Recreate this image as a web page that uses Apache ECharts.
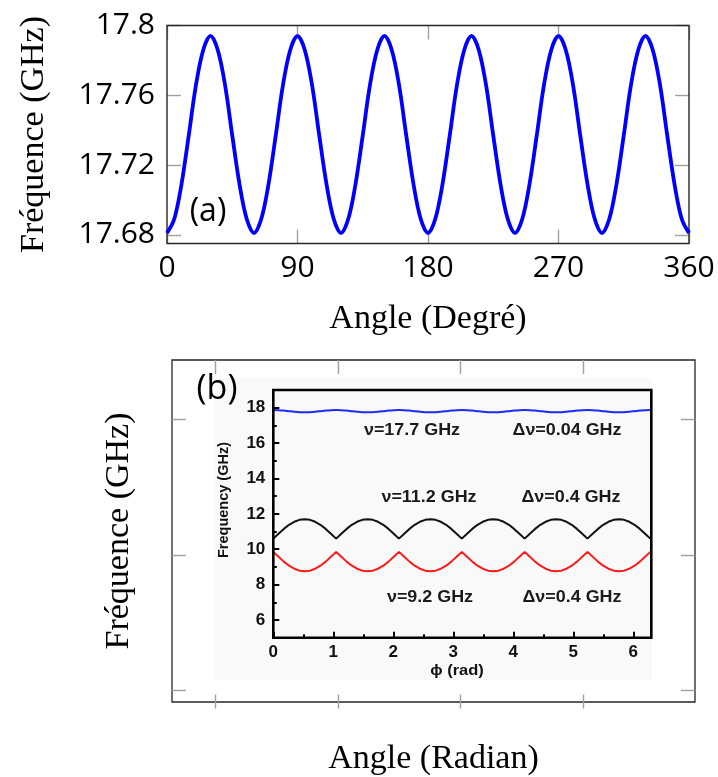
<!DOCTYPE html>
<html>
<head>
<meta charset="utf-8">
<script src="https://cdn.jsdelivr.net/npm/echarts@6/dist/echarts.min.js"></script>
<style>
html,body{margin:0;padding:0;background:#fff;}
#chart{width:718px;height:777px;}
</style>
</head>
<body>
<div id="chart"></div>
<script>
// ---------- Panel (a) data ----------
const thetaDeg = [0,5,10,15,20,25,30,35,40,45,50,55,60,65,70,75,80,85,90,95,100,105,110,115,120,125,130,135,140,145,150,155,160,165,170,175,180,185,190,195,200,205,210,215,220,225,230,235,240,245,250,255,260,265,270,275,280,285,290,295,300,305,310,315,320,325,330,335,340,345,350,355,360];
const freqA = [
17.681,17.689,17.709,17.737,17.766,17.786,17.794,17.786,17.766,17.737,17.709,17.689,
17.681,17.689,17.709,17.737,17.766,17.786,17.794,17.786,17.766,17.737,17.709,17.689,
17.681,17.689,17.709,17.737,17.766,17.786,17.794,17.786,17.766,17.737,17.709,17.689,
17.681,17.689,17.709,17.737,17.766,17.786,17.794,17.786,17.766,17.737,17.709,17.689,
17.681,17.689,17.709,17.737,17.766,17.786,17.794,17.786,17.766,17.737,17.709,17.689,
17.681,17.689,17.709,17.737,17.766,17.786,17.794,17.786,17.766,17.737,17.709,17.689,
17.681];
const xTicksA = [0,90,180,270,360];
const yTicksA = [17.68,17.72,17.76,17.8];

// ---------- Panel (b) inset data ----------
const phiRad = [0.000,0.087,0.175,0.262,0.349,0.436,0.524,0.611,0.698,0.785,0.873,0.960,1.047,1.134,1.222,1.309,1.396,1.484,1.571,1.658,1.745,1.833,1.920,2.007,2.094,2.182,2.269,2.356,2.443,2.531,2.618,2.705,2.793,2.880,2.967,3.054,3.142,3.229,3.316,3.403,3.491,3.578,3.665,3.752,3.840,3.927,4.014,4.102,4.189,4.276,4.363,4.451,4.538,4.625,4.712,4.800,4.887,4.974,5.061,5.149,5.236,5.323,5.411,5.498,5.585,5.672,5.760,5.847,5.934,6.021,6.109,6.196,6.283];
const freqBlue = [
17.870,17.861,17.838,17.805,17.773,17.749,17.740,17.749,17.773,17.805,17.838,17.861,
17.870,17.861,17.838,17.805,17.773,17.749,17.740,17.749,17.773,17.805,17.838,17.861,
17.870,17.861,17.838,17.805,17.773,17.749,17.740,17.749,17.773,17.805,17.838,17.861,
17.870,17.861,17.838,17.805,17.773,17.749,17.740,17.749,17.773,17.805,17.838,17.861,
17.870,17.861,17.838,17.805,17.773,17.749,17.740,17.749,17.773,17.805,17.838,17.861,
17.870,17.861,17.838,17.805,17.773,17.749,17.740,17.749,17.773,17.805,17.838,17.861,
17.870];
const freqBlack = [
10.60,10.88,11.15,11.38,11.55,11.66,11.70,11.66,11.55,11.38,11.15,10.88,
10.60,10.88,11.15,11.38,11.55,11.66,11.70,11.66,11.55,11.38,11.15,10.88,
10.60,10.88,11.15,11.38,11.55,11.66,11.70,11.66,11.55,11.38,11.15,10.88,
10.60,10.88,11.15,11.38,11.55,11.66,11.70,11.66,11.55,11.38,11.15,10.88,
10.60,10.88,11.15,11.38,11.55,11.66,11.70,11.66,11.55,11.38,11.15,10.88,
10.60,10.88,11.15,11.38,11.55,11.66,11.70,11.66,11.55,11.38,11.15,10.88,
10.60];
const freqRed = [
9.85,9.57,9.30,9.07,8.90,8.79,8.75,8.79,8.90,9.07,9.30,9.57,
9.85,9.57,9.30,9.07,8.90,8.79,8.75,8.79,8.90,9.07,9.30,9.57,
9.85,9.57,9.30,9.07,8.90,8.79,8.75,8.79,8.90,9.07,9.30,9.57,
9.85,9.57,9.30,9.07,8.90,8.79,8.75,8.79,8.90,9.07,9.30,9.57,
9.85,9.57,9.30,9.07,8.90,8.79,8.75,8.79,8.90,9.07,9.30,9.57,
9.85,9.57,9.30,9.07,8.90,8.79,8.75,8.79,8.90,9.07,9.30,9.57,
9.85];
const xTicksInset = [0,1,2,3,4,5,6];
const xMinorInset = [0.5,1.5,2.5,3.5,4.5,5.5];
const yTicksInset = [6,8,10,12,14,16,18];
const yMinorInset = [7,9,11,13,15,17];
const annotations = [
  ['ν=17.7 GHz', 412, 431], ['Δν=0.04 GHz', 567, 431],
  ['ν=11.2 GHz', 429, 498], ['Δν=0.4 GHz', 571, 498],
  ['ν=9.2 GHz', 430, 598], ['Δν=0.4 GHz', 572, 598]
];
// outer (b) frame ticks (no labels)
const yTicksOuterB = [0,1,2];

const zip = (xs, ys) => xs.map((x, i) => [x, ys[i]]);

const SERIF = '"Liberation Serif", "DejaVu Serif", serif';
const SANS = '"Open Sans", sans-serif';
const ARIAL = '"Liberation Sans", "DejaVu Sans", sans-serif';
const TICK_GRAY = '#a0a0a0';
const grayTick = (custom) => {
  const t = {show: true, inside: true, length: 14, lineStyle: {color: TICK_GRAY, width: 1.4}};
  if (custom) t.customValues = custom;
  return t;
};
const noLine = () => ({show: false, onZero: false});
const stripY = (gridIndex) => ({gridIndex, type: 'value', min: 0, max: 1,
  axisLine: noLine(), axisTick: {show: false}, axisLabel: {show: false}, splitLine: {show: false}});
// bottom-positioned carrier axis whose inward ticks form the frame ticks of box (b)
const frameTickX = (gridIndex) => ({gridIndex, type: 'value', min: 0, max: 3, interval: 1, position: 'bottom', z: 20,
  axisLine: noLine(), splitLine: {show: false}, axisLabel: {show: false}, axisTick: grayTick()});

const chart = echarts.init(document.getElementById('chart'), null, {renderer: 'canvas'});

const option = {
  animation: false,
  backgroundColor: '#fff',
  grid: [
    {left: 167, top: 25.5, width: 522, height: 218, show: true, borderColor: '#262626', borderWidth: 1.4, backgroundColor: 'transparent', z: 3},
    {left: 172, top: 360, width: 523, height: 348.5, show: true, borderColor: '#262626', borderWidth: 1.3, backgroundColor: 'transparent'},
    {left: 273.3, top: 390, width: 378, height: 247.7, show: true, borderColor: '#000', borderWidth: 2.6, backgroundColor: 'transparent', z: 4},
    // carrier for the top frame ticks: its bottom edge sits 14px below the box top
    {left: 215.7, top: 300, width: 367.3, height: 74, show: false},
    // carrier for the bottom frame ticks: its bottom edge is the box bottom
    {left: 215.7, top: 600, width: 367.3, height: 108.5, show: false}
  ],
  xAxis: [
    {gridIndex: 0, type: 'value', min: 0, max: 360, interval: 90, position: 'bottom',
     axisLine: noLine(), splitLine: {show: false}, axisTick: grayTick(),
     axisLabel: {color: '#000', fontFamily: SANS, fontSize: 30, margin: 10},
     name: 'Angle (Degré)', nameLocation: 'middle', nameGap: 59, nameMoveOverlap: false,
     nameTextStyle: {fontFamily: SERIF, fontSize: 34, color: '#000'}},
    {gridIndex: 0, type: 'value', min: 0, max: 360, interval: 90, position: 'top',
     axisLine: noLine(), splitLine: {show: false}, axisTick: grayTick(), axisLabel: {show: false}},
    {gridIndex: 1, type: 'value', min: 0, max: 1, position: 'bottom',
     axisLine: noLine(), splitLine: {show: false}, axisTick: {show: false}, axisLabel: {show: false},
     name: 'Angle (Radian)', nameLocation: 'middle', nameGap: 40, nameMoveOverlap: false,
     nameTextStyle: {fontFamily: SERIF, fontSize: 34, color: '#000'}},
    {gridIndex: 2, type: 'value', min: 0, max: 6.3, position: 'bottom',
     axisLine: noLine(), splitLine: {show: false},
     axisTick: {show: true, inside: true, length: 6, customValues: xTicksInset, lineStyle: {color: '#000', width: 2}},
     axisLabel: {customValues: xTicksInset, color: '#111', fontFamily: ARIAL, fontWeight: 'bold', fontSize: 17, margin: 6}},
    {gridIndex: 2, type: 'value', min: 0, max: 6.3, position: 'bottom',
     axisLine: noLine(), splitLine: {show: false},
     axisTick: {show: true, inside: true, length: 3.5, customValues: xMinorInset, lineStyle: {color: '#000', width: 2}},
     axisLabel: {show: false}},
    frameTickX(3),
    frameTickX(4)
  ],
  yAxis: [
    {gridIndex: 0, type: 'value', min: 17.675, max: 17.8, position: 'left',
     axisLine: noLine(), splitLine: {show: false},
     axisTick: grayTick(yTicksA),
     axisLabel: {customValues: yTicksA, color: '#000', fontFamily: SANS, fontSize: 30, margin: 12},
     name: 'Fréquence (GHz)', nameLocation: 'middle', nameGap: 116, nameMoveOverlap: false,
     nameTextStyle: {fontFamily: SERIF, fontSize: 34, color: '#000'}},
    {gridIndex: 0, type: 'value', min: 17.675, max: 17.8, position: 'right',
     axisLine: noLine(), splitLine: {show: false},
     axisTick: grayTick(yTicksA), axisLabel: {show: false}},
    {gridIndex: 1, type: 'value', min: -0.085, max: 2.435, position: 'left',
     axisLine: noLine(), splitLine: {show: false},
     axisTick: grayTick(yTicksOuterB), axisLabel: {show: false},
     name: 'Fréquence (GHz)', nameLocation: 'middle', nameGap: 36, nameMoveOverlap: false,
     nameTextStyle: {fontFamily: SERIF, fontSize: 34, color: '#000'}},
    {gridIndex: 1, type: 'value', min: -0.085, max: 2.435, position: 'right',
     axisLine: noLine(), splitLine: {show: false},
     axisTick: grayTick(yTicksOuterB), axisLabel: {show: false}},
    {gridIndex: 2, type: 'value', min: 5, max: 19, position: 'left',
     axisLine: noLine(), splitLine: {show: false},
     axisTick: {show: true, inside: true, length: 6, customValues: yTicksInset, lineStyle: {color: '#000', width: 2}},
     axisLabel: {customValues: yTicksInset, color: '#111', fontFamily: ARIAL, fontWeight: 'bold', fontSize: 17, margin: 8}},
    {gridIndex: 2, type: 'value', min: 5, max: 19, position: 'left',
     axisLine: noLine(), splitLine: {show: false},
     axisTick: {show: true, inside: true, length: 3.5, customValues: yMinorInset, lineStyle: {color: '#000', width: 2}},
     axisLabel: {show: false}},
    stripY(3),
    stripY(4)
  ],
  series: [
    {type: 'line', xAxisIndex: 0, yAxisIndex: 0, data: zip(thetaDeg, freqA), smooth: 0.35,
     showSymbol: false, lineStyle: {color: '#0000ff', width: 3.8}, z: 5},
    {type: 'line', xAxisIndex: 3, yAxisIndex: 4, data: zip(phiRad, freqBlue), smooth: 0.3,
     showSymbol: false, lineStyle: {color: '#1a2cff', width: 2}},
    {type: 'line', xAxisIndex: 3, yAxisIndex: 4, data: zip(phiRad, freqBlack), smooth: false,
     showSymbol: false, lineStyle: {color: '#111', width: 2}},
    {type: 'line', xAxisIndex: 3, yAxisIndex: 4, data: zip(phiRad, freqRed), smooth: false,
     showSymbol: false, lineStyle: {color: '#ff1a1a', width: 2}}
  ],
  graphic: [
    {type: 'rect', z: -10, silent: true, shape: {x: 215, y: 378, width: 437, height: 302}, style: {fill: '#f9f9f9'}},
    {type: 'text', z: 50, x: 208, y: 212, style: {text: '(a)', fontFamily: SANS, fontSize: 32, fill: '#000', align: 'center', verticalAlign: 'middle'}},
    {type: 'text', z: 50, x: 217, y: 389, style: {text: '(b)', fontFamily: SANS, fontSize: 34, fill: '#000', align: 'center', verticalAlign: 'middle'}},
    {type: 'text', z: 50, x: 224, y: 500, rotation: Math.PI / 2, style: {text: 'Frequency (GHz)', fontFamily: ARIAL, fontWeight: 'bold', fontSize: 14.5, fill: '#111', align: 'center', verticalAlign: 'middle'}},
    {type: 'text', z: 50, x: 457, y: 671, scaleX: 1.1, style: {text: 'ϕ (rad)', fontFamily: ARIAL, fontWeight: 'bold', fontSize: 15, fill: '#111', align: 'center', verticalAlign: 'middle'}}
  ].concat(annotations.map(a => ({
    type: 'text', z: 50, x: a[1], y: a[2], scaleX: 1.12,
    style: {text: a[0], fontFamily: ARIAL, fontWeight: 'bold', fontSize: 16, fill: '#1a1a1a', align: 'center', verticalAlign: 'middle'}
  })))
};
chart.setOption(option);
</script>
</body>
</html>
